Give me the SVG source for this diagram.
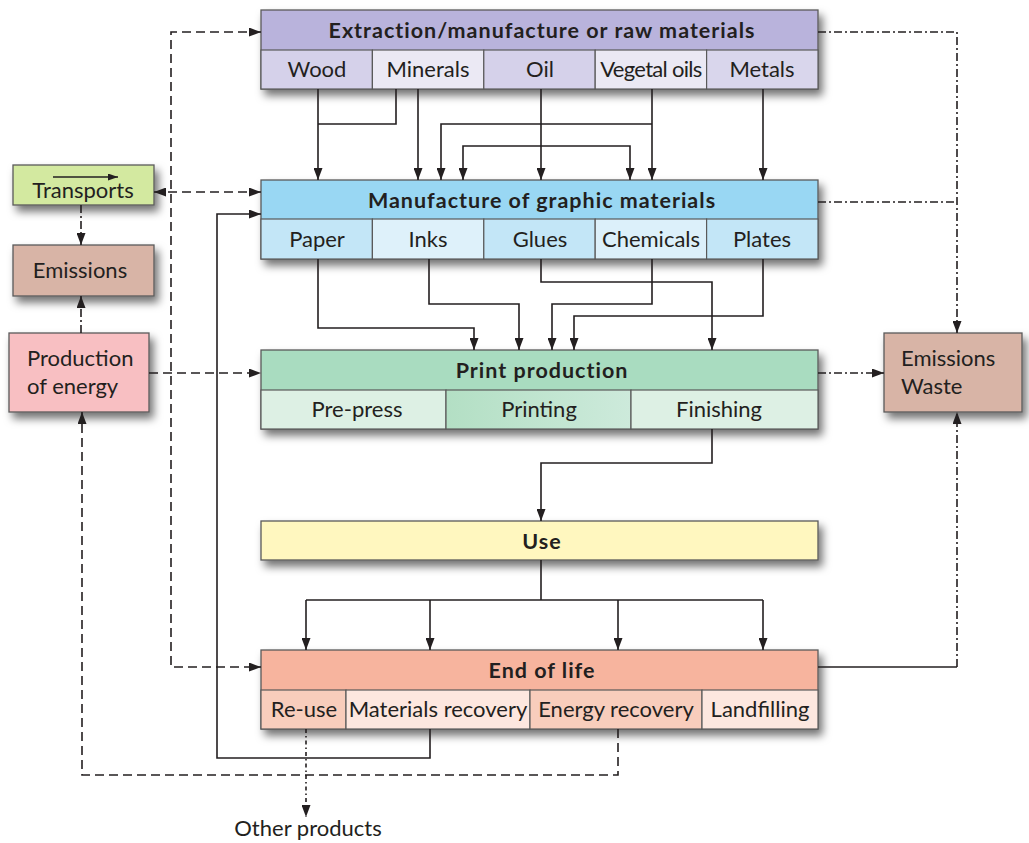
<svg xmlns="http://www.w3.org/2000/svg" width="1029" height="843" viewBox="0 0 1029 843">
  <defs>
    <filter id="shadow" x="-10%" y="-20%" width="125%" height="160%">
      <feDropShadow dx="4" dy="6" stdDeviation="4" flood-color="#000" flood-opacity="0.55"/>
    </filter>
    <marker id="ah" viewBox="0 0 12 9" refX="12" refY="4.5" markerWidth="12" markerHeight="9" markerUnits="userSpaceOnUse" orient="auto-start-reverse">
      <path d="M0,0 L12,4.5 L0,9 z" fill="#231f20"/>
    </marker>
    <marker id="ahs" viewBox="0 0 10 7" refX="10" refY="3.5" markerWidth="10" markerHeight="7" markerUnits="userSpaceOnUse" orient="auto">
      <path d="M0,0 L10,3.5 L0,7 z" fill="#231f20"/>
    </marker>
    <linearGradient id="printing" x1="0" y1="0" x2="1" y2="0">
      <stop offset="0" stop-color="#b3dfc4"/>
      <stop offset="1" stop-color="#cdeadb"/>
    </linearGradient>
  </defs>
  <style>
    .frame { stroke: #5a5a5a; stroke-width: 1.3; }
    .cell { stroke: #5a5a5a; stroke-width: 1.2; }
    .t { font-family: Lato, "Open Sans", "Liberation Sans", sans-serif; font-size: 22px; fill: #231f20; }
    .h { font-family: Lato, "Open Sans", "Liberation Sans", sans-serif; font-size: 21.5px; font-weight: bold; letter-spacing: 1px; fill: #231f20; }
    .c { text-anchor: middle; }
    .ln { fill: none; stroke: #231f20; stroke-width: 1.6; }
    .dash { stroke-dasharray: 9 5; }
    .dashdot { stroke-dasharray: 8 3 2 3; }
    .dot { stroke-dasharray: 4 3 1.5 3; }
    .arr { marker-end: url(#ah); }
    .both { marker-start: url(#ah); marker-end: url(#ah); }
  </style>

  <rect width="1029" height="843" fill="#ffffff"/>

  <!-- Extraction / raw materials -->
  <g id="extraction">
    <rect x="261" y="10" width="557" height="79" fill="#b9b3dc" class="frame" filter="url(#shadow)"/>
    <rect x="261" y="50" width="111.4" height="39" fill="#d5d1ea" class="cell"/>
    <rect x="372.4" y="50" width="111.4" height="39" fill="#ebe9f4" class="cell"/>
    <rect x="483.8" y="50" width="111.4" height="39" fill="#d5d1ea" class="cell"/>
    <rect x="595.2" y="50" width="111.4" height="39" fill="#ebe9f4" class="cell"/>
    <rect x="706.6" y="50" width="111.4" height="39" fill="#d9d6ec" class="cell"/>
    <text x="542" y="38" class="h c">Extraction/manufacture or raw materials</text>
    <text x="317" y="77" class="t c">Wood</text>
    <text x="428" y="77" class="t c">Minerals</text>
    <text x="540" y="77" class="t c">Oil</text>
    <text x="651" y="77" class="t c" letter-spacing="-0.7">Vegetal oils</text>
    <text x="762" y="77" class="t c">Metals</text>
  </g>

  <!-- Manufacture of graphic materials -->
  <g id="manufacture">
    <rect x="261" y="180" width="557" height="79" fill="#99d7f3" class="frame" filter="url(#shadow)"/>
    <rect x="261" y="219" width="111.4" height="40" fill="#c3e6f7" class="cell"/>
    <rect x="372.4" y="219" width="111.4" height="40" fill="#def1fa" class="cell"/>
    <rect x="483.8" y="219" width="111.4" height="40" fill="#c3e6f7" class="cell"/>
    <rect x="595.2" y="219" width="111.4" height="40" fill="#dcf0fa" class="cell"/>
    <rect x="706.6" y="219" width="111.4" height="40" fill="#c3e6f7" class="cell"/>
    <text x="542" y="208" class="h c">Manufacture of graphic materials</text>
    <text x="317" y="247" class="t c">Paper</text>
    <text x="428" y="247" class="t c">Inks</text>
    <text x="540" y="247" class="t c">Glues</text>
    <text x="651" y="247" class="t c">Chemicals</text>
    <text x="762" y="247" class="t c">Plates</text>
  </g>

  <!-- Print production -->
  <g id="print">
    <rect x="261" y="350" width="557" height="79" fill="#a9dcc0" class="frame" filter="url(#shadow)"/>
    <rect x="261" y="390" width="185" height="39" fill="#ddf0e4" class="cell"/>
    <rect x="446" y="390" width="185" height="39" fill="url(#printing)" class="cell"/>
    <rect x="631" y="390" width="187" height="39" fill="#ddf0e4" class="cell"/>
    <text x="542" y="378" class="h c">Print production</text>
    <text x="357" y="417" class="t c">Pre-press</text>
    <text x="539" y="417" class="t c">Printing</text>
    <text x="719" y="417" class="t c">Finishing</text>
  </g>

  <!-- Use -->
  <g id="use">
    <rect x="261" y="521" width="557" height="39" fill="#fff7bf" class="frame" filter="url(#shadow)"/>
    <text x="542" y="549" class="h c">Use</text>
  </g>

  <!-- End of life -->
  <g id="endoflife">
    <rect x="261" y="650" width="557" height="79" fill="#f7b49e" class="frame" filter="url(#shadow)"/>
    <rect x="261" y="690" width="85" height="39" fill="#f8cdbc" class="cell"/>
    <rect x="346" y="690" width="184" height="39" fill="#fde7df" class="cell"/>
    <rect x="530" y="690" width="172" height="39" fill="#f8cdbc" class="cell"/>
    <rect x="702" y="690" width="116" height="39" fill="#fde7df" class="cell"/>
    <text x="542" y="678" class="h c">End of life</text>
    <text x="304" y="717" class="t c">Re-use</text>
    <text x="438" y="717" class="t c">Materials recovery</text>
    <text x="616" y="717" class="t c">Energy recovery</text>
    <text x="760" y="717" class="t c">Landfilling</text>
  </g>

  <!-- Transports -->
  <g id="transports">
    <rect x="13" y="165" width="141" height="40" fill="#d3e9a0" class="frame" filter="url(#shadow)"/>
    <path d="M53,177 H118" class="ln" marker-end="url(#ahs)"/>
    <text x="83" y="198" class="t c">Transports</text>
  </g>

  <!-- Emissions (transport / energy) -->
  <g id="emissions">
    <rect x="13" y="245" width="141" height="51" fill="#d8b4a6" class="frame" filter="url(#shadow)"/>
    <text x="80" y="278" class="t c">Emissions</text>
  </g>

  <!-- Production of energy -->
  <g id="energy">
    <rect x="9" y="333" width="140" height="79" fill="#f8bfc2" class="frame" filter="url(#shadow)"/>
    <text x="27" y="366" class="t">Production</text>
    <text x="27" y="394" class="t">of energy</text>
  </g>

  <!-- Emissions / Waste -->
  <g id="emissions-waste">
    <rect x="884" y="333" width="138" height="79" fill="#d8b4a6" class="frame" filter="url(#shadow)"/>
    <text x="901" y="366" class="t">Emissions</text>
    <text x="901" y="394" class="t">Waste</text>
  </g>

  <!-- Other products -->
  <g id="other-products">
    <text x="308" y="836" class="t c">Other products</text>
  </g>

  <!-- Connectors -->
  <g id="connectors">
    <!-- raw materials to graphic materials -->
    <path d="M318,89 V180" class="ln arr"/>
    <path d="M396,89 V124 H318" class="ln"/>
    <path d="M418,89 V180" class="ln arr"/>
    <path d="M541,89 V180" class="ln arr"/>
    <path d="M652,89 V180" class="ln arr"/>
    <path d="M652,124 H441 V180" class="ln arr"/>
    <path d="M463,180 V146 H630 V180" class="ln both"/>
    <path d="M763,89 V180" class="ln arr"/>

    <!-- graphic materials to print production -->
    <path d="M318,259 V328 H474 V350" class="ln arr"/>
    <path d="M429,259 V304 H519 V350" class="ln arr"/>
    <path d="M541,259 V282 H712 V350" class="ln arr"/>
    <path d="M652,259 V304 H552 V350" class="ln arr"/>
    <path d="M763,259 V316 H574 V350" class="ln arr"/>

    <!-- finishing to use -->
    <path d="M712,429 V463 H541 V521" class="ln arr"/>

    <!-- use to end of life -->
    <path d="M541,560 V600" class="ln"/>
    <path d="M306,600 H763" class="ln"/>
    <path d="M306,600 V650" class="ln arr"/>
    <path d="M430,600 V650" class="ln arr"/>
    <path d="M618,600 V650" class="ln arr"/>
    <path d="M763,600 V650" class="ln arr"/>

    <!-- materials recovery back to manufacture -->
    <path d="M430,729 V758 H217 V214 H261" class="ln arr"/>

    <!-- end of life to emissions / waste -->
    <path d="M818,667 H957" class="ln"/>
    <path d="M957,667 V412" class="ln dashdot arr"/>

    <!-- emissions from stages -->
    <path d="M818,32 H957 V333" class="ln dashdot arr"/>
    <path d="M818,202 H957" class="ln dashdot"/>
    <path d="M818,373 H884" class="ln dashdot arr"/>

    <!-- transports -->
    <path d="M261,32 H171 V667 H261" class="ln dash both"/>
    <path d="M154,192 H261" class="ln dash both"/>
    <path d="M81,205 V245" class="ln dashdot arr"/>

    <!-- energy -->
    <path d="M149,373 H261" class="ln dash arr"/>
    <path d="M81,333 V296" class="ln dashdot arr"/>
    <path d="M618,729 V775 H82 V412" class="ln dash arr"/>

    <!-- re-use to other products -->
    <path d="M306,729 V817" class="ln dot arr"/>
  </g>
</svg>
